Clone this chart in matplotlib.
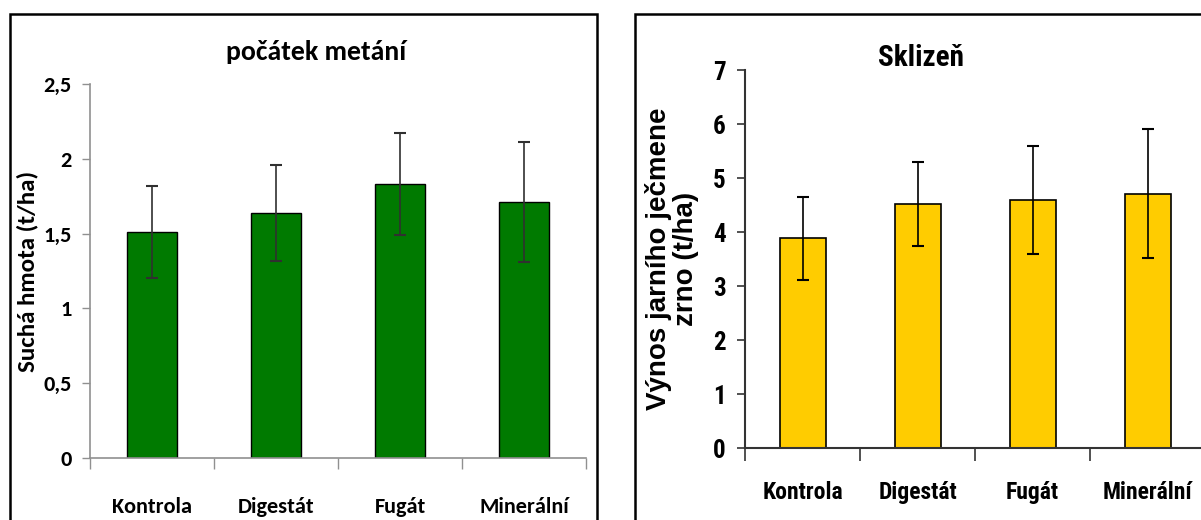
import numpy as np
import matplotlib
matplotlib.use('Agg')
import matplotlib.pyplot as plt
from matplotlib.patches import Rectangle
from matplotlib.ticker import FuncFormatter

categories = ['Kontrola', 'Digestát', 'Fugát', 'Minerální']

# počátek metání - suchá hmota (t/ha)
dm_values = [1.51, 1.64, 1.83, 1.71]
dm_errors = [0.31, 0.32, 0.34, 0.40]

# sklizeň - výnos zrna (t/ha)
yield_values = [3.88, 4.52, 4.60, 4.71]
yield_errors = [0.77, 0.78, 1.00, 1.19]

W, H = 1201, 520
fig = plt.figure(figsize=(W / 100, H / 100), dpi=100)

left_font = ['Carlito', 'DejaVu Sans']
right_font = ['Roboto Condensed', 'DejaVu Sans']
label_font = ['Liberation Sans', 'DejaVu Sans']


def comma(v, pos):
    return ('%g' % v).replace('.', ',')


# panel frames
fig.patches.append(Rectangle((10 / W, -0.1), 587 / W, 1.1 - 14 / H, transform=fig.transFigure,
                             fill=False, edgecolor='black', linewidth=1.8))
fig.patches.append(Rectangle((635 / W, -0.1), 600 / W, 1.1 - 14 / H, transform=fig.transFigure,
                             fill=False, edgecolor='black', linewidth=1.8))

x = np.arange(len(categories))

# ---- left panel
ax1 = fig.add_axes([90 / W, 1 - 458 / H, 496 / W, 374 / H])
ax1.bar(x, dm_values, width=0.4, color='#007A00', edgecolor='black', linewidth=1.0, zorder=2)
ax1.errorbar(x, dm_values, yerr=dm_errors, fmt='none', ecolor='#303030', elinewidth=1.2,
             capsize=4, capthick=1.5, zorder=3)
ax1.set_xlim(-0.5, 3.5)
ax1.set_ylim(0, 2.5)
ax1.set_yticks([0, 0.5, 1, 1.5, 2, 2.5])
ax1.yaxis.set_major_formatter(FuncFormatter(comma))
ax1.set_xticks([-0.5, 0.5, 1.5, 2.5, 3.5])
ax1.set_xticklabels([])
ax1.set_xticks(x, minor=True)
ax1.set_xticklabels(categories, minor=True, fontsize=16, fontweight='bold', family=left_font)
ax1.tick_params(axis='x', which='minor', length=0, pad=28)
ax1.tick_params(axis='x', which='major', length=8, color='#909090', width=1)
ax1.tick_params(axis='y', length=6, color='#909090', width=1, pad=7)
for lab in ax1.get_yticklabels():
    lab.set_fontsize(16)
    lab.set_fontweight('bold')
    lab.set_family(left_font)
for s in ['top', 'right']:
    ax1.spines[s].set_visible(False)
for s in ['left', 'bottom']:
    ax1.spines[s].set_color('#909090')
    ax1.spines[s].set_linewidth(1.2)
fig.text(316 / W, 1 - 52 / H, 'počátek metání', fontsize=20, fontweight='bold', family=left_font,
         ha='center', va='center')
ax1.set_ylabel('Suchá hmota (t/ha)', fontsize=18, fontweight='bold', family=left_font)
ax1.yaxis.set_label_coords((38 - 90) / 496, 0.5)

# ---- right panel
ax2 = fig.add_axes([745 / W, 1 - 448 / H, 460 / W, 378 / H])
ax2.bar(x, yield_values, width=0.4, color='#FFCC00', edgecolor='black', linewidth=1.2, zorder=2)
ax2.errorbar(x, yield_values, yerr=yield_errors, fmt='none', ecolor='black', elinewidth=1.2,
             capsize=4, capthick=1.5, zorder=3)
ax2.set_xlim(-0.5, 3.5)
ax2.set_ylim(0, 7)
ax2.set_yticks(range(8))
ax2.set_xticks([-0.5, 0.5, 1.5, 2.5, 3.5])
ax2.set_xticklabels([])
ax2.set_xticks(x, minor=True)
ax2.set_xticklabels(categories, minor=True, fontsize=17, fontweight='bold', family=right_font)
ax2.tick_params(axis='x', which='minor', length=0, pad=24)
ax2.tick_params(axis='x', which='major', length=9, color='#333333', width=1.2)
ax2.tick_params(axis='y', length=6, color='#333333', width=1.2, pad=8)
for lab in ax2.get_yticklabels():
    lab.set_fontsize(18)
    lab.set_fontweight('bold')
    lab.set_family(right_font)
for s in ['top', 'right']:
    ax2.spines[s].set_visible(False)
for s in ['left', 'bottom']:
    ax2.spines[s].set_color('#333333')
    ax2.spines[s].set_linewidth(1.5)
fig.text(921 / W, 1 - 58 / H, 'Sklizeň', fontsize=21, fontweight='bold', family=right_font,
         ha='center', va='center')
ax2.set_ylabel('Výnos jarního ječmene\nzrno (t/ha)', fontsize=20, fontweight='bold',
               family=label_font, linespacing=1.05)
ax2.yaxis.set_label_coords((699 - 745) / 460, 0.5)

fig.savefig('out.png', dpi=100)
